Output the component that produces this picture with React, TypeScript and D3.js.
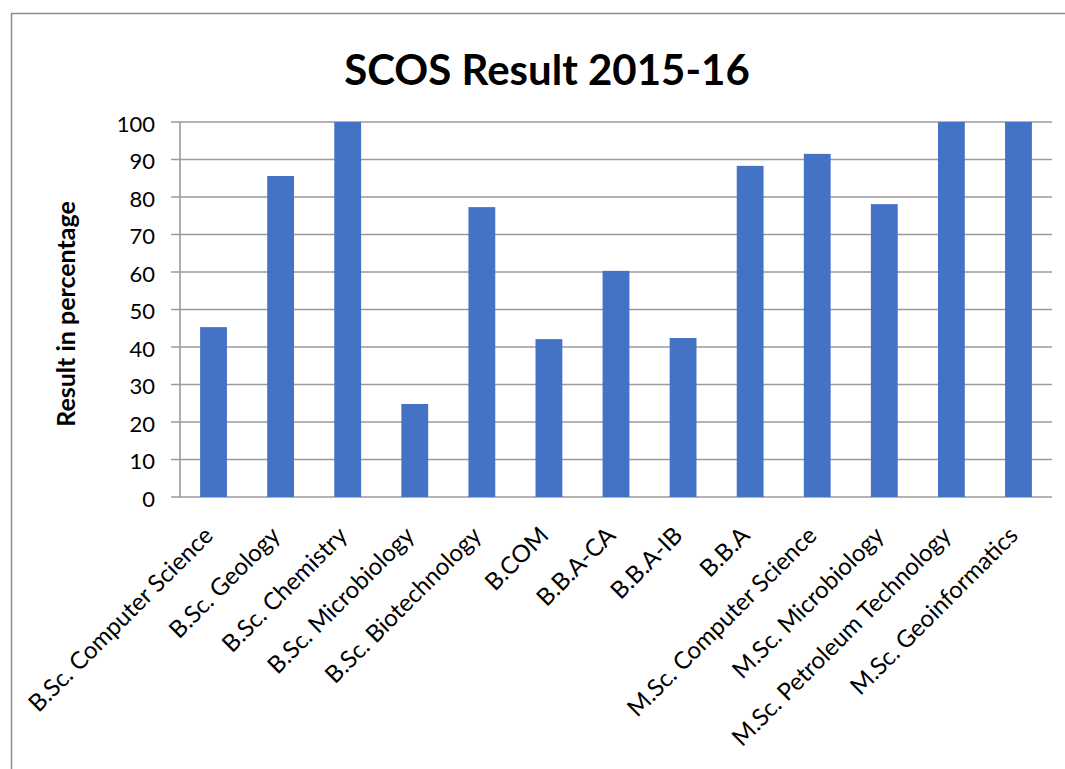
import React, { useEffect, useRef } from "react";
import * as d3 from "d3";

const courses = [
  "B.Sc. Computer Science",
  "B.Sc. Geology",
  "B.Sc. Chemistry",
  "B.Sc. Microbiology",
  "B.Sc. Biotechnology",
  "B.COM",
  "B.B.A-CA",
  "B.B.A-IB",
  "B.B.A",
  "M.Sc. Computer Science",
  "M.Sc. Microbiology",
  "M.Sc. Petroleum Technology",
  "M.Sc. Geoinformatics",
];
const results = [45.3, 85.6, 100, 24.8, 77.3, 42.1, 60.3, 42.4, 88.3, 91.5, 78.1, 100, 100];
const yTicks = [0, 10, 20, 30, 40, 50, 60, 70, 80, 90, 100];

const W = 1065;
const H = 769;
const FONT = "Lato, 'Noto Sans', sans-serif";

const App: React.FC = () => {
  const svgRef = useRef<SVGSVGElement>(null);

  useEffect(() => {
    if (!svgRef.current) return;
    const svg = d3.select(svgRef.current);
    svg.selectAll("*").remove();

    const left = 180;
    const right = 1052;
    const top = 122;
    const bottom = 497;

    svg
      .append("rect")
      .attr("x", 11.5)
      .attr("y", 13.5)
      .attr("width", W + 20)
      .attr("height", H + 20)
      .attr("fill", "#fff")
      .attr("stroke", "#8c8c8c")
      .attr("stroke-width", 1.5);

    const x = d3
      .scaleBand<string>()
      .domain(courses)
      .range([left, right])
      .paddingInner(0.6)
      .paddingOuter(0.3);

    const y = d3.scaleLinear().domain([0, 100]).range([bottom, top]);

    // gridlines
    svg
      .append("g")
      .selectAll("line")
      .data(yTicks)
      .join("line")
      .attr("x1", left - 9)
      .attr("x2", right)
      .attr("y1", (d) => y(d))
      .attr("y2", (d) => y(d))
      .attr("stroke", "#9a9a9a")
      .attr("stroke-width", 1.6);

    svg
      .append("line")
      .attr("x1", left)
      .attr("x2", left)
      .attr("y1", top)
      .attr("y2", bottom)
      .attr("stroke", "#9a9a9a")
      .attr("stroke-width", 1.6);

    // bars
    svg
      .append("g")
      .selectAll("rect")
      .data(results)
      .join("rect")
      .attr("x", (_, i) => x(courses[i])!)
      .attr("width", x.bandwidth())
      .attr("y", (d) => y(d))
      .attr("height", (d) => bottom - y(d))
      .attr("fill", "#4472C4");

    // y tick labels
    svg
      .append("g")
      .selectAll("text")
      .data(yTicks)
      .join("text")
      .attr("x", 155)
      .attr("y", (d) => y(d))
      .attr("dy", "0.45em")
      .attr("text-anchor", "end")
      .attr("font-family", FONT)
      .attr("font-size", 22)
      .attr("fill", "#000")
      .text((d) => d);

    // x labels
    svg
      .append("g")
      .selectAll("text")
      .data(courses)
      .join("text")
      .attr(
        "transform",
        (d) => `translate(${x(d)! + x.bandwidth() / 2 + 1}, 537) rotate(-45)`
      )
      .attr("text-anchor", "end")
      .attr("font-family", FONT)
      .attr("font-size", 24)
      .attr("fill", "#000")
      .text((d) => d);

    svg
      .append("text")
      .attr("transform", "translate(75, 314) rotate(-90)")
      .attr("text-anchor", "middle")
      .attr("font-family", FONT)
      .attr("font-weight", "bold")
      .attr("font-size", 25)
      .attr("fill", "#000")
      .text("Result in percentage");

    svg
      .append("text")
      .attr("x", 547)
      .attr("y", 85)
      .attr("text-anchor", "middle")
      .attr("font-family", FONT)
      .attr("font-weight", "bold")
      .attr("font-size", 42)
      .attr("fill", "#000")
      .text("SCOS Result 2015-16");
  }, []);

  return (
    <svg
      ref={svgRef}
      width={W}
      height={H}
      style={{ position: "absolute", left: 0, top: 0, background: "#fff" }}
    />
  );
};

export default App;
